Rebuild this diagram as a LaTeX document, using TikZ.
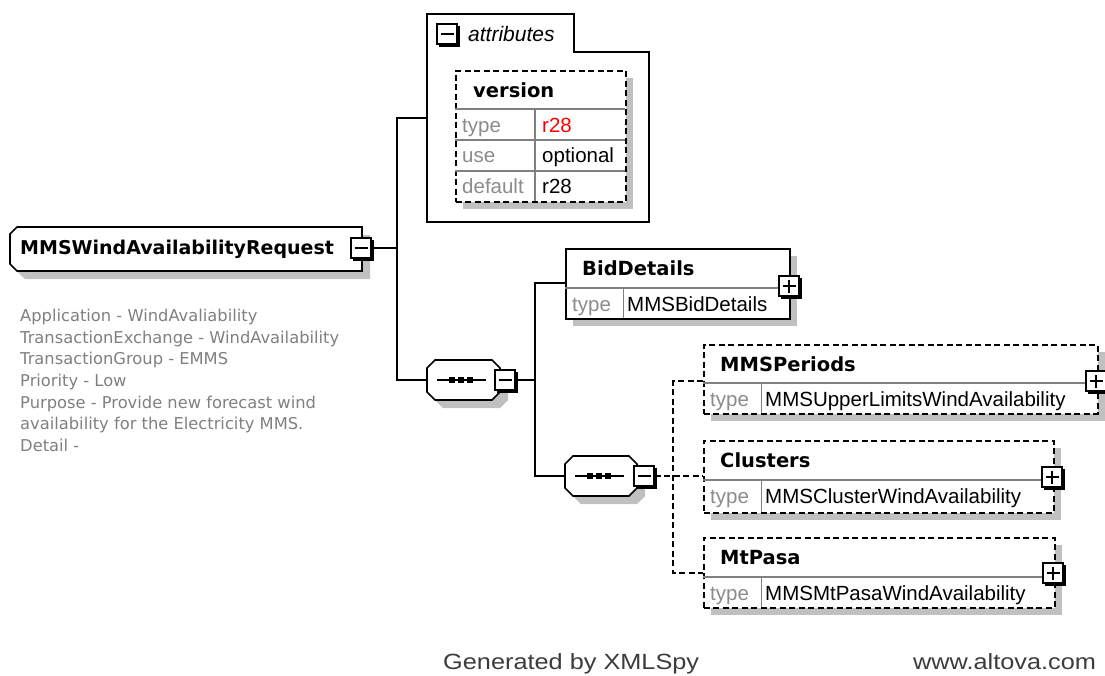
\documentclass[tikz,border=0pt]{standalone}
\usepackage{fontspec}
\setmainfont{Liberation Sans}
\newfontfamily\dvfont{DejaVu Sans}
\newfontfamily\footfont[FakeStretch=1.15]{Liberation Sans}
\definecolor{shadowgray}{RGB}{192,192,192}
\definecolor{lblgray}{RGB}{140,140,140}
\definecolor{rulegray}{RGB}{128,128,128}
\definecolor{descgray}{RGB}{128,128,128}
\definecolor{footgray}{RGB}{60,60,60}
\definecolor{valred}{RGB}{255,0,0}
\tikzset{
  conn/.style={line width=1.7pt},
  dconn/.style={line width=1.7pt, dash pattern=on 6pt off 3.5pt},
  shadowfill/.style={fill=shadowgray, draw=none},
  solidbox/.style={draw=black, fill=white, line width=1.7pt, inner sep=0pt},
  dashbox/.style={draw=black, fill=white, line width=1.7pt, dash pattern=on 6pt off 3.5pt, inner sep=0pt},
  ruleline/.style={draw=rulegray, line width=1.3pt},
  togglebox/.style={draw=black, fill=white, line width=1.5pt, minimum size=20pt, inner sep=0pt},
  lbltext/.style={inner sep=0pt, font=\dvfont\bfseries\fontsize{19.5}{22}\selectfont},
  graytext/.style={inner sep=0pt, text=lblgray, font=\fontsize{20.5}{24}\selectfont},
  valtext/.style={inner sep=0pt, font=\fontsize{20.5}{24}\selectfont},
  desctext/.style={inner sep=0pt, text=descgray, font=\dvfont\fontsize{16.3}{20}\selectfont},
  foottext/.style={inner sep=0pt, text=footgray, font=\footfont\fontsize{22}{26}\selectfont},
  hidden/.style={inner sep=0pt, outer sep=0pt},
}
\newcommand\ToggleMinus[3]{%
  \node[togglebox] (#1) at (#2,#3) {};
  \draw[line width=2.8pt] (#2+11.2,#3-8) -- (#2+11.2,#3+11.2) -- (#2-8,#3+11.2);
  \draw[line width=1.5pt] (#2-6.5,#3) -- (#2+6.5,#3);
}
\newcommand\TogglePlus[3]{%
  \ToggleMinus{#1}{#2}{#3}%
  \draw[line width=1.5pt] (#2,#3-6.5) -- (#2,#3+6.5);
}
% name, x1, y1, x2, ydiv, y2, label, type, style
\newcommand\ElemBox[9]{%
  \fill[shadowfill] (#2+8,#3+8) rectangle (#4+8,#6+8);
  \node[#9, anchor=north west, minimum width={#4-#2}, minimum height={#6-#3}] (#1) at (#2,#3) {};
  \draw[ruleline] (#2,#5) -- (#4,#5);
  \draw[ruleline] (#2+58.5,#5) -- (#2+58.5,#6);
  \node[lbltext, anchor=base west] (#1-l) at (#2+17,#3+27) {#7};
  \node[graytext, anchor=base west] (#1-t) at (#2+7,#5+23) {type};
  \node[valtext, anchor=base west] (#1-v) at (#2+62,#5+23) {#8};
}
% name, x1, top, x2 (height 40)
\newcommand\SeqNode[4]{%
  \fill[shadowfill] (#2+16,#3+8) -- (#4,#3+8) -- (#4+8,#3+16) -- (#4+8,#3+40) -- (#4,#3+48) -- (#2+16,#3+48) -- (#2+8,#3+40) -- (#2+8,#3+16) -- cycle;
  \draw[line width=1.7pt, fill=white] (#2+8,#3) -- (#4-8,#3) -- (#4,#3+8) -- (#4,#3+32) -- (#4-8,#3+40) -- (#2+8,#3+40) -- (#2,#3+32) -- (#2,#3+8) -- cycle;
  \node[hidden, minimum width={#4-#2}, minimum height=40pt] (#1) at ({(#2+#4)/2},#3+20) {};
  \draw[line width=1.6pt] (#2+10,#3+20) -- (#2+59,#3+20);
  \fill (#2+22,#3+17) rectangle ++(6,6);
  \fill (#2+31,#3+17) rectangle ++(6,6);
  \fill (#2+40,#3+17) rectangle ++(6,6);
}
\begin{document}
\begin{tikzpicture}[x=1pt, y=-1pt]
\useasboundingbox (0,0) rectangle (1105,675);
\fill[white] (0,0) rectangle (1105,675);

% ---- coordinates for connectors
\coordinate (busA) at (397,118);
\coordinate (busB) at (397,380);
\coordinate (attrIn) at (427,118);
\coordinate (busC) at (535,283);
\coordinate (busD) at (535,476);
\coordinate (bidIn) at (565,283);
\coordinate (busE) at (673,381);
\coordinate (busF) at (673,573);
\coordinate (mmspIn) at (703,381);
\coordinate (clusIn) at (703,476);
\coordinate (mtpIn) at (703,573);

% ---- root element
\fill[shadowfill] (25,235) -- (370,235) -- (370,279) -- (25,279) -- (18,272) -- (18,242) -- cycle;
\draw[line width=1.7pt, fill=white] (17,227) -- (362,227) -- (362,271) -- (17,271) -- (10,264) -- (10,234) -- cycle;
\node[hidden, minimum width=352pt, minimum height=44pt] (root) at (186,249) {};
\node[lbltext, font=\dvfont\bfseries\fontsize{19}{22}\selectfont, anchor=base west] (root-l) at (20,254) {MMSWindAvailabilityRequest};
\ToggleMinus{rootT}{361}{248}

% ---- description
\node[desctext, anchor=base west] (d1) at (20,321) {Application - WindAvaliability};
\node[desctext, anchor=base west] (d2) at (20,343) {TransactionExchange - WindAvailability};
\node[desctext, anchor=base west] (d3) at (20,364) {TransactionGroup - EMMS};
\node[desctext, anchor=base west] (d4) at (20,386) {Priority - Low};
\node[desctext, anchor=base west] (d5) at (20,408) {Purpose - Provide new forecast wind};
\node[desctext, anchor=base west] (d6) at (20,429) {availability for the Electricity MMS.};
\node[desctext, anchor=base west] (d7) at (20,451) {Detail -};

% ---- attributes box
\draw[line width=1.7pt, fill=white] (427,14) -- (574,14) -- (574,52) -- (649,52) -- (649,222) -- (427,222) -- cycle;
\node[hidden, anchor=north west, minimum width=222pt, minimum height=208pt] (attrs) at (427,14) {};
\ToggleMinus{attrT}{447}{34}
\node[inner sep=0pt, anchor=base west, font=\itshape\fontsize{21}{24}\selectfont] (attr-l) at (468,41) {attributes};
\fill[shadowfill] (463,78) rectangle (633,209);
\node[dashbox, anchor=north west, minimum width=170pt, minimum height=131pt] (ver) at (455,70) {};
\draw[ruleline] (455,109) -- (625,109);
\draw[ruleline] (455,140) -- (625,140);
\draw[ruleline] (455,171) -- (625,171);
\draw[ruleline] (535,109) -- (535,201);
\node[lbltext, anchor=base west] (ver-l) at (473,97) {version};
\node[graytext, anchor=base west] (ver-t) at (462,132) {type};
\node[valtext, text=valred, anchor=base west] (ver-tv) at (542,132) {r28};
\node[graytext, anchor=base west] (ver-u) at (462,162) {use};
\node[valtext, anchor=base west] (ver-uv) at (542,162) {optional};
\node[graytext, anchor=base west] (ver-d) at (462,193) {default};
\node[valtext, anchor=base west] (ver-dv) at (542,193) {r28};

% ---- sequences
\SeqNode{seq1}{427}{360}{500}
\ToggleMinus{s1T}{505}{380}
\SeqNode{seq2}{565}{456}{637}
\ToggleMinus{s2T}{644}{476}

% ---- connectors
\draw[conn] (rootT.east) -- (rootT.east -| busA);
\draw[conn] (attrIn) -- (busA) -- (busB) -- (seq1.west);
\draw[conn] (s1T.east) -- (s1T.east -| busC);
\draw[conn] (bidIn) -- (busC) -- (busD) -- (seq2.west);
\draw[dconn] (s2T.east) -- (clusIn);
\draw[dconn] (mmspIn) -- (busE) -- (busF) -- (mtpIn);

% ---- child elements
\ElemBox{bid}{565}{248}{789}{288}{318}{BidDetails}{MMSBidDetails}{solidbox}
\TogglePlus{bidT}{789}{286}
\ElemBox{mmsp}{703}{344}{1097}{383}{413}{MMSPeriods}{MMSUpperLimitsWindAvailability}{dashbox}
\TogglePlus{mmspT}{1096}{381}
\ElemBox{clus}{703}{440}{1053}{480}{512}{Clusters}{MMSClusterWindAvailability}{dashbox}
\TogglePlus{clusT}{1052}{477}
\ElemBox{mtp}{703}{537}{1054}{577}{607}{MtPasa}{MMSMtPasaWindAvailability}{dashbox}
\TogglePlus{mtpT}{1053}{573}

% ---- footer
\node[foottext, anchor=base west] (gen) at (443,669) {Generated by XMLSpy};
\node[foottext, anchor=base west] (www) at (913,669) {www.altova.com};
\end{tikzpicture}
\end{document}
